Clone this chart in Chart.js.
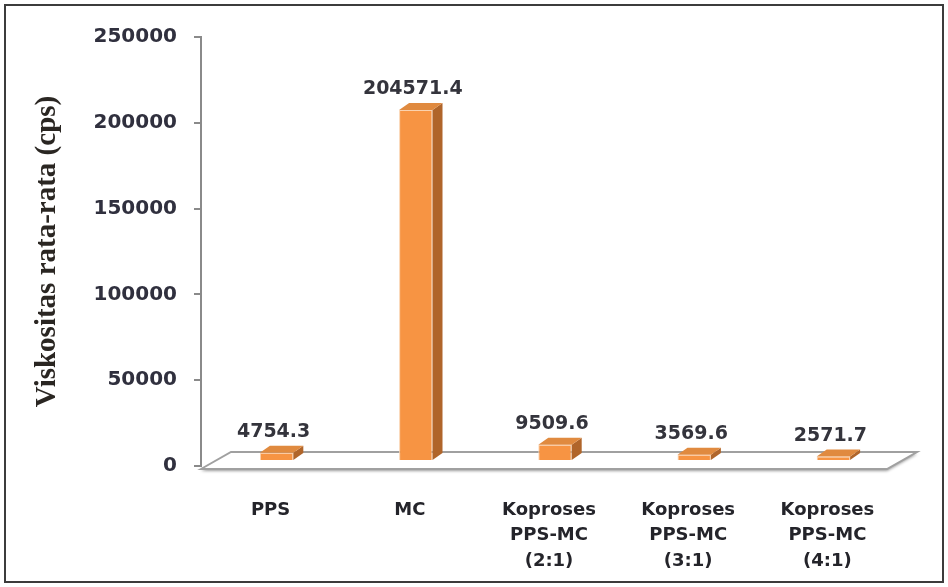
<!DOCTYPE html>
<html>
<head>
<meta charset="utf-8">
<script src="https://cdn.jsdelivr.net/npm/chart.js@4.4.0/dist/chart.umd.min.js"></script>
<style>
  html, body { margin: 0; padding: 0; background: #ffffff; }
  #wrap { width: 948px; height: 587px; position: relative; }
</style>
</head>
<body>
<div id="wrap"><canvas id="chart" width="948" height="587"></canvas></div>
<script>
// Sample names (multi-line axis labels)
const categories = [
  ['PPS'],
  ['MC'],
  ['Koproses', 'PPS-MC', '(2:1)'],
  ['Koproses', 'PPS-MC', '(3:1)'],
  ['Koproses', 'PPS-MC', '(4:1)']
];
// Mean viscosity (cps)
const viscosity = [4754.3, 204571.4, 9509.6, 3569.6, 2571.7];
const valueLabels = ['4754.3', '204571.4', '9509.6', '3569.6', '2571.7'];
// Value axis
const yMin = 0;
const yMax = 250000;
const yStep = 50000;

// 3D look: bar depth and the shift of the bars onto the middle of the floor
const BAR_DEPTH = { dx: 10, dy: -7 };
const BAR_SHIFT = { dx: 6, dy: -5 };
const FLOOR_DEPTH = { dx: 30, dy: -17 };

const FRONT = '#F79443';
const SIDE = '#B0652A';
const TOP = '#E08A3F';

const frame = {
  id: 'frame',
  afterDraw(chart) {
    const ctx = chart.ctx;
    ctx.save();
    ctx.strokeStyle = '#3c3c3c';
    ctx.lineWidth = 2;
    ctx.strokeRect(5, 5, 938, 577);
    ctx.restore();
  }
};

const floor = {
  id: 'floor',
  beforeDatasetsDraw(chart) {
    const ctx = chart.ctx;
    const a = chart.chartArea;
    const y0 = chart.scales.y.getPixelForValue(0) + 3;
    const x0 = a.left;
    const x1 = a.right - 10;
    ctx.save();
    ctx.beginPath();
    ctx.moveTo(x0, y0);
    ctx.lineTo(x0 + FLOOR_DEPTH.dx, y0 + FLOOR_DEPTH.dy);
    ctx.lineTo(x1 + FLOOR_DEPTH.dx, y0 + FLOOR_DEPTH.dy);
    ctx.lineTo(x1, y0);
    ctx.closePath();
    ctx.shadowColor = 'rgba(0,0,0,0.4)';
    ctx.shadowBlur = 3;
    ctx.shadowOffsetY = 2;
    ctx.fillStyle = '#ffffff';
    ctx.fill();
    ctx.shadowColor = 'transparent';
    ctx.strokeStyle = '#a0a0a0';
    ctx.lineWidth = 2;
    ctx.stroke();
    ctx.restore();
  }
};

const bars3d = {
  id: 'bars3d',
  beforeDatasetDraw(chart) {
    chart.ctx.save();
    chart.ctx.translate(BAR_SHIFT.dx, BAR_SHIFT.dy);
  },
  afterDatasetDraw(chart, args) {
    const ctx = chart.ctx;
    const meta = args.meta;
    meta.data.forEach((el) => {
      const p = el.getProps(['x', 'y', 'base', 'width'], true);
      const l = p.x - p.width / 2;
      const r = p.x + p.width / 2;
      // side face
      ctx.beginPath();
      ctx.moveTo(r, p.y);
      ctx.lineTo(r + BAR_DEPTH.dx, p.y + BAR_DEPTH.dy);
      ctx.lineTo(r + BAR_DEPTH.dx, p.base + BAR_DEPTH.dy);
      ctx.lineTo(r, p.base);
      ctx.closePath();
      ctx.fillStyle = SIDE;
      ctx.fill();
      // top face
      ctx.beginPath();
      ctx.moveTo(l, p.y);
      ctx.lineTo(l + BAR_DEPTH.dx, p.y + BAR_DEPTH.dy);
      ctx.lineTo(r + BAR_DEPTH.dx, p.y + BAR_DEPTH.dy);
      ctx.lineTo(r, p.y);
      ctx.closePath();
      ctx.fillStyle = TOP;
      ctx.fill();
    });
    ctx.restore();
  },
  afterDatasetsDraw(chart) {
    const ctx = chart.ctx;
    const meta = chart.getDatasetMeta(0);
    ctx.save();
    ctx.font = 'bold 19px "DejaVu Sans"';
    ctx.fillStyle = '#34343c';
    ctx.textAlign = 'center';
    ctx.textBaseline = 'middle';
    meta.data.forEach((el, i) => {
      const p = el.getProps(['x', 'y'], true);
      ctx.fillText(valueLabels[i], p.x + 3, p.y - 26);
    });
    ctx.restore();
  }
};

new Chart(document.getElementById('chart'), {
  type: 'bar',
  data: {
    labels: categories,
    datasets: [{
      data: viscosity,
      backgroundColor: FRONT,
      borderColor: '#FBD2AE',
      borderWidth: 1,
      categoryPercentage: 1,
      barPercentage: 0.24
    }]
  },
  options: {
    responsive: false,
    animation: false,
    devicePixelRatio: 1,
    layout: { padding: { top: 37, right: 51, bottom: 0, left: 30 } },
    plugins: {
      legend: { display: false },
      tooltip: { enabled: false }
    },
    scales: {
      x: {
        grid: { display: false, drawTicks: false },
        border: { display: false },
        ticks: {
          padding: 32,
          maxRotation: 0,
          autoSkip: false,
          color: '#24242a',
          font: { family: '"DejaVu Sans"', size: 18, weight: 'bold', lineHeight: 1.4 }
        },
        afterFit(scale) { scale.height = 121; }
      },
      y: {
        min: yMin,
        max: yMax,
        ticks: {
          stepSize: yStep,
          padding: 17,
          color: '#30303e',
          font: { family: '"DejaVu Sans"', size: 20, weight: 'bold' },
          callback: (v) => String(v)
        },
        grid: {
          drawOnChartArea: false,
          drawTicks: true,
          tickLength: 7,
          color: '#8a8a8a',
          lineWidth: 2
        },
        border: { display: true, color: '#8a8a8a', width: 2 },
        title: {
          display: true,
          text: 'Viskositas rata-rata (cps)',
          color: '#2a2622',
          font: { family: '"Liberation Serif"', size: 29, weight: 'bold' },
          padding: { top: 0, bottom: 0 }
        },
        afterFit(scale) { scale.width = 201 - 30; }
      }
    }
  },
  plugins: [frame, floor, bars3d]
});
</script>
</body>
</html>
